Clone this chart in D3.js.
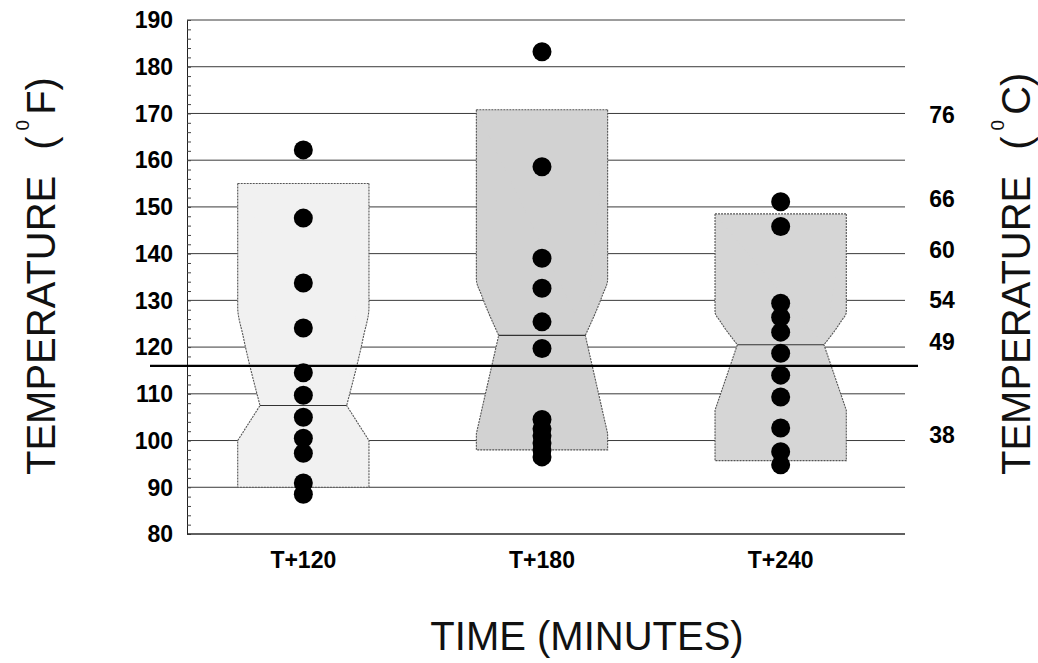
<!DOCTYPE html>
<html>
<head>
<meta charset="utf-8">
<script src="https://cdn.jsdelivr.net/npm/d3@7"></script>
<style>
  html, body { margin: 0; padding: 0; background: #fff; }
  svg { display: block; }
</style>
</head>
<body>
<svg id="chart" width="1038" height="663"></svg>
<script>
// ---------------- DATA ----------------
const categories = ["T+120", "T+180", "T+240"];
// notched box statistics (°F)
const boxQ1      = [90, 98, 95.7];
const boxQ3      = [155, 170.8, 148.5];
const boxMedian  = [107.5, 122.5, 120.5];
const notchLow   = [100, 101.5, 106.5];
const notchHigh  = [128.5, 134.5, 127.5];
// individual observations (°F)
const pointsT120 = [162.2, 147.6, 133.7, 124.1, 114.5, 109.7, 105, 100.5, 97.3, 90.9, 88.5];
const pointsT180 = [183.2, 158.6, 139, 132.6, 125.4, 119.7, 104.5, 102.5, 101, 99.5, 98, 96.5];
const pointsT240 = [151.1, 145.8, 129.4, 126.4, 123.2, 118.7, 114, 109.3, 102.7, 97.6, 94.8];
const points = [pointsT120, pointsT180, pointsT240];
const yTicks = [80, 90, 100, 110, 120, 130, 140, 150, 160, 170, 180, 190];
const celsiusLabels = [76, 66, 60, 54, 49, 38];
const referenceLine = 116;

// ---------------- LAYOUT ----------------
const svg = d3.select("#chart");
const plotL = 187, plotR = 905, plotT = 20, plotB = 534;
const y = d3.scaleLinear().domain([80, 190]).range([plotB, plotT]);
const x = d3.scaleBand().domain(categories).range([184, 900]);
const boxW = x.bandwidth() * 0.55;
const boxFills = ["#f1f1f1", "#d2d2d2", "#d6d6d6"];
const font = "'Liberation Sans', Arial, sans-serif";

// gridlines
svg.append("g").selectAll("line").data(yTicks).join("line")
  .attr("x1", plotL).attr("x2", plotR)
  .attr("y1", d => y(d)).attr("y2", d => y(d))
  .attr("stroke", "#3a3a3a").attr("stroke-width", 1);

// left axis with minor ticks
const yAxis = d3.axisRight(y).tickValues(d3.range(80, 190.1, 2)).tickSize(4).tickFormat("");
const ga = svg.append("g").attr("transform", `translate(${plotL},0)`).call(yAxis);
ga.select(".domain").attr("stroke", "#222");
ga.selectAll(".tick line").attr("stroke", "#444");

// left tick labels
svg.append("g").selectAll("text").data(yTicks).join("text")
  .attr("x", 173).attr("y", d => y(d)).attr("dy", "0.36em")
  .attr("text-anchor", "end")
  .attr("font-family", font).attr("font-weight", "bold").attr("font-size", 23)
  .text(d => d);

// bottom axis line
svg.append("line").attr("x1", plotL).attr("x2", plotR)
  .attr("y1", plotB).attr("y2", plotB).attr("stroke", "#222").attr("stroke-width", 1.2);

// notched boxes, with a softly rounded shoulder above the notch
categories.forEach((c, i) => {
  const cx = x(c) + x.bandwidth() / 2;
  const l = cx - boxW / 2, r = cx + boxW / 2, ind = boxW * 0.17;
  const yTop = y(boxQ3[i]), yHi = y(notchHigh[i]), yMed = y(boxMedian[i]);
  const yLo = y(notchLow[i]), yBot = y(boxQ1[i]);
  const sh = (yMed - yHi) * 0.3;
  const curved = d3.line().curve(d3.curveMonotoneY);
  const leftDown = curved([[l, yTop], [l, yHi], [l + ind * 0.25, yHi + sh], [l + ind, yMed]]);
  const lower = d3.line()([[l + ind, yMed], [l, yLo], [l, yBot], [r, yBot], [r, yLo], [r - ind, yMed]]);
  const rightDown = curved([[r, yTop], [r, yHi], [r - ind * 0.25, yHi + sh], [r - ind, yMed]]);
  const style = p => p.attr("stroke", "#555").attr("stroke-width", 1.1).attr("stroke-dasharray", "2,1");

  // fill of the upper part
  svg.append("path")
    .attr("d", d3.line()([[l, yTop], [r, yTop], [r, yHi], [r - ind, yMed], [l + ind, yMed], [l, yHi]]) + "Z")
    .attr("fill", boxFills[i]).attr("stroke", "none");
  svg.append("path").attr("d", leftDown + lower.replace(/^M/, "L"))
    .attr("fill", boxFills[i]).call(style);
  svg.append("path").attr("d", rightDown)
    .attr("fill", boxFills[i]).call(style);
  svg.append("line").attr("x1", l).attr("x2", r).attr("y1", yTop).attr("y2", yTop).call(style);
  svg.append("line")
    .attr("x1", l + ind).attr("x2", r - ind).attr("y1", yMed).attr("y2", yMed)
    .attr("stroke", "#333").attr("stroke-width", 1.2);
});

// reference line
svg.append("line").attr("x1", 150).attr("x2", 918)
  .attr("y1", y(referenceLine)).attr("y2", y(referenceLine))
  .attr("stroke", "#000").attr("stroke-width", 2.2);

// points
categories.forEach((c, i) => {
  const cx = x(c) + x.bandwidth() / 2;
  svg.append("g").selectAll("circle").data(points[i]).join("circle")
    .attr("cx", cx).attr("cy", d => y(d)).attr("r", 9.5)
    .attr("fill", "#000");
});

// x tick labels
svg.append("g").selectAll("text").data(categories).join("text")
  .attr("x", d => x(d) + x.bandwidth() / 2).attr("y", 560).attr("dy", "0.36em")
  .attr("text-anchor", "middle")
  .attr("font-family", font).attr("font-weight", "bold").attr("font-size", 23)
  .text(d => d);

// right celsius labels
svg.append("g").selectAll("text").data(celsiusLabels).join("text")
  .attr("x", 942).attr("y", d => y(d * 9 / 5 + 32) - 4).attr("dy", "0.36em")
  .attr("text-anchor", "middle")
  .attr("font-family", font).attr("font-weight", "bold").attr("font-size", 23)
  .text(d => d);

// axis titles
function rotTitle(bx, by, unit) {
  const t = svg.append("text")
    .attr("transform", `translate(${bx},${by}) rotate(-90)`)
    .attr("text-anchor", "start")
    .attr("font-family", font).attr("font-size", 40).attr("fill", "#111");
  t.append("tspan").text("TEMPERATURE");
  t.append("tspan").attr("dx", 26).text("(");
  t.append("tspan").attr("dx", 6).attr("dy", -26).attr("font-size", 19).text("0");
  t.append("tspan").attr("dx", 5).attr("dy", 26).text(unit);
  t.append("tspan").text(")");
}
rotTitle(55, 475, "F");
rotTitle(1030, 475, "C");

svg.append("text").attr("x", 587).attr("y", 650)
  .attr("text-anchor", "middle")
  .attr("font-family", font).attr("font-size", 40).attr("fill", "#111")
  .text("TIME (MINUTES)");
</script>
</body>
</html>
